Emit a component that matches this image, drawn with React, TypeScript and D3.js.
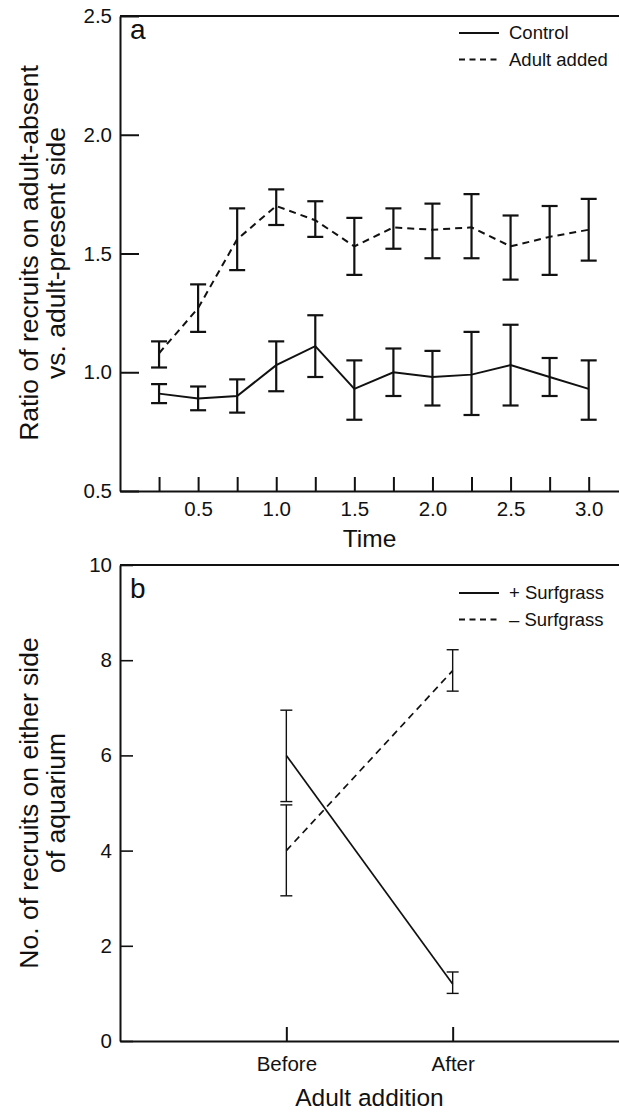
import React, { useRef, useEffect } from "react";
import * as d3 from "d3";

// panel a: ratio of recruits over time
const timeValues = [0.25, 0.5, 0.75, 1.0, 1.25, 1.5, 1.75, 2.0, 2.25, 2.5, 2.75, 3.0];
const controlMean = [0.91, 0.89, 0.9, 1.03, 1.11, 0.93, 1.0, 0.98, 0.99, 1.03, 0.98, 0.93];
const controlLow = [0.87, 0.84, 0.83, 0.92, 0.98, 0.8, 0.9, 0.86, 0.82, 0.86, 0.9, 0.8];
const controlHigh = [0.95, 0.94, 0.97, 1.13, 1.24, 1.05, 1.1, 1.09, 1.17, 1.2, 1.06, 1.05];
const adultMean = [1.08, 1.27, 1.56, 1.7, 1.64, 1.53, 1.61, 1.6, 1.61, 1.53, 1.57, 1.6];
const adultLow = [1.02, 1.17, 1.43, 1.62, 1.57, 1.41, 1.52, 1.48, 1.48, 1.39, 1.41, 1.47];
const adultHigh = [1.13, 1.37, 1.69, 1.77, 1.72, 1.65, 1.69, 1.71, 1.75, 1.66, 1.7, 1.73];
const ratioTicks = [0.5, 1.0, 1.5, 2.0, 2.5];
const timeLabelTicks = [0.5, 1.0, 1.5, 2.0, 2.5, 3.0];

// panel b: recruits before / after adult addition
const periods = ["Before", "After"];
const plusMean = [6.0, 1.2];
const plusLow = [5.03, 1.0];
const plusHigh = [6.95, 1.45];
const minusMean = [4.0, 7.78];
const minusLow = [3.05, 7.35];
const minusHigh = [4.96, 8.22];
const countTicks = [0, 2, 4, 6, 8, 10];

const FONT = "'Liberation Sans', Arial, Helvetica, sans-serif";
const INK = "#111";

type Pt = { x: number; m: number; lo: number; hi: number };

const App = () => {
  const svgRef = useRef<SVGSVGElement>(null);

  useEffect(() => {
    const svg = d3.select(svgRef.current);
    svg.selectAll("*").remove();
    const left = 120;
    const right = 619;

    const styleAxis = (g: any, fontSize: number) => {
      g.attr("font-family", FONT).attr("font-size", fontSize);
      g.selectAll("text").attr("fill", INK);
      g.selectAll("line").attr("stroke", INK).attr("stroke-width", 2);
      g.select(".domain").attr("stroke", INK).attr("stroke-width", 2);
    };

    const drawSeries = (
      g: any,
      pts: Pt[],
      x: (v: number) => number,
      y: any,
      dashed: boolean,
      cap: number,
      lw: number,
      bw: number
    ) => {
      const line = d3
        .line<Pt>()
        .x((d) => x(d.x))
        .y((d) => y(d.m));
      g.append("path")
        .datum(pts)
        .attr("d", line)
        .attr("fill", "none")
        .attr("stroke", INK)
        .attr("stroke-width", lw)
        .attr("stroke-dasharray", dashed ? "7,5" : null);
      const bars = g.append("g").attr("stroke", INK).attr("stroke-width", bw);
      pts.forEach((d) => {
        const cx = x(d.x);
        bars.append("line").attr("x1", cx).attr("x2", cx).attr("y1", y(d.lo)).attr("y2", y(d.hi));
        [d.lo, d.hi].forEach((v) => {
          bars.append("line").attr("x1", cx - cap).attr("x2", cx + cap).attr("y1", y(v)).attr("y2", y(v));
        });
      });
    };

    const legend = (items: string[], top: number) => {
      const lg = svg.append("g").attr("font-family", FONT).attr("font-size", 18.5);
      items.forEach((label, i) => {
        const yy = top + i * 26.5;
        lg.append("line")
          .attr("x1", 459)
          .attr("x2", 499)
          .attr("y1", yy)
          .attr("y2", yy)
          .attr("stroke", INK)
          .attr("stroke-width", 2)
          .attr("stroke-dasharray", i === 1 ? "6,4.5" : null);
        lg.append("text").attr("x", 509).attr("y", yy).attr("dy", "0.35em").attr("fill", INK).text(label);
      });
    };

    const yTitle = (lines: string[], cy: number) => {
      lines.forEach((t, i) => {
        svg
          .append("text")
          .attr("transform", `translate(${29 + i * 27},${cy}) rotate(-90)`)
          .attr("text-anchor", "middle")
          .attr("dy", "0.35em")
          .attr("font-family", FONT)
          .attr("font-size", 26.5)
          .attr("fill", INK)
          .text(t);
      });
    };

    // ---------- panel a ----------
    const xA = d3.scaleLinear().domain([0, 3.194]).range([left, right]);
    const yA = d3.scaleLinear().domain([0.5, 2.5]).range([491, 16]);

    svg.append("line").attr("x1", left).attr("x2", right).attr("y1", 16).attr("y2", 16)
      .attr("stroke", INK).attr("stroke-width", 2);

    const yAxisA = svg
      .append("g")
      .attr("transform", `translate(${left},0)`)
      .call(
        d3.axisLeft(yA).tickValues(ratioTicks).tickSize(-19).tickSizeOuter(0).tickPadding(8)
          .tickFormat(d3.format(".1f"))
      );
    styleAxis(yAxisA, 20.5);

    const xAxisA = svg
      .append("g")
      .attr("transform", `translate(0,491)`)
      .call(
        d3.axisBottom(xA).tickValues(timeValues).tickSize(-14).tickSizeOuter(0).tickPadding(10)
          .tickFormat((d: any) => (timeLabelTicks.includes(d) ? d3.format(".1f")(d) : ""))
      );
    styleAxis(xAxisA, 20.5);

    const ctrl: Pt[] = timeValues.map((t, i) => ({ x: t, m: controlMean[i], lo: controlLow[i], hi: controlHigh[i] }));
    const adult: Pt[] = timeValues.map((t, i) => ({ x: t, m: adultMean[i], lo: adultLow[i], hi: adultHigh[i] }));
    drawSeries(svg, adult, xA, yA, true, 8, 2, 2.2);
    drawSeries(svg, ctrl, xA, yA, false, 8, 2, 2.2);

    svg.append("text").attr("x", 130).attr("y", 39).attr("font-family", FONT).attr("font-size", 28)
      .attr("fill", INK).text("a");
    legend(["Control", "Adult added"], 33);

    svg.append("text").attr("x", (left + right) / 2).attr("y", 547).attr("text-anchor", "middle")
      .attr("font-family", FONT).attr("font-size", 24.5).attr("fill", INK).text("Time");
    yTitle(["Ratio of recruits on adult-absent", "vs. adult-present side"], 253);

    // ---------- panel b ----------
    const xB = d3.scalePoint<string>().domain(["", ...periods, " "]).range([left, right]);
    const posB = (i: number) => xB(periods[i]) as number;
    const yB = d3.scaleLinear().domain([0, 10]).range([1041, 565]);

    svg.append("line").attr("x1", left).attr("x2", right).attr("y1", 565).attr("y2", 565)
      .attr("stroke", INK).attr("stroke-width", 2);

    const yAxisB = svg
      .append("g")
      .attr("transform", `translate(${left},0)`)
      .call(d3.axisLeft(yB).tickValues(countTicks).tickSize(-13).tickSizeOuter(0).tickPadding(8));
    styleAxis(yAxisB, 20.5);
    yAxisB.selectAll(".tick line").attr("stroke-width", 1.6);

    const xAxisB = svg
      .append("g")
      .attr("transform", `translate(0,1041)`)
      .call(d3.axisBottom(xB).tickValues(periods).tickSize(-14).tickSizeOuter(0).tickPadding(15));
    styleAxis(xAxisB, 20.5);

    const plus: Pt[] = periods.map((_, i) => ({ x: i, m: plusMean[i], lo: plusLow[i], hi: plusHigh[i] }));
    const minus: Pt[] = periods.map((_, i) => ({ x: i, m: minusMean[i], lo: minusLow[i], hi: minusHigh[i] }));
    drawSeries(svg, minus, posB, yB, true, 6, 1.7, 1.4);
    drawSeries(svg, plus, posB, yB, false, 6, 1.7, 1.4);

    svg.append("text").attr("x", 130).attr("y", 598).attr("font-family", FONT).attr("font-size", 28)
      .attr("fill", INK).text("b");
    legend(["+ Surfgrass", "\u2013 Surfgrass"], 593);

    svg.append("text").attr("x", (left + right) / 2).attr("y", 1106).attr("text-anchor", "middle")
      .attr("font-family", FONT).attr("font-size", 24.5).attr("fill", INK).text("Adult addition");
    yTitle(["No. of recruits on either side", "of aquarium"], 803);
  }, []);

  return (
    <div style={{ position: "absolute", left: 0, top: 0, width: 619, height: 1113, background: "#fff" }}>
      <svg ref={svgRef} width={619} height={1113} style={{ display: "block" }}></svg>
    </div>
  );
};

export default App;
